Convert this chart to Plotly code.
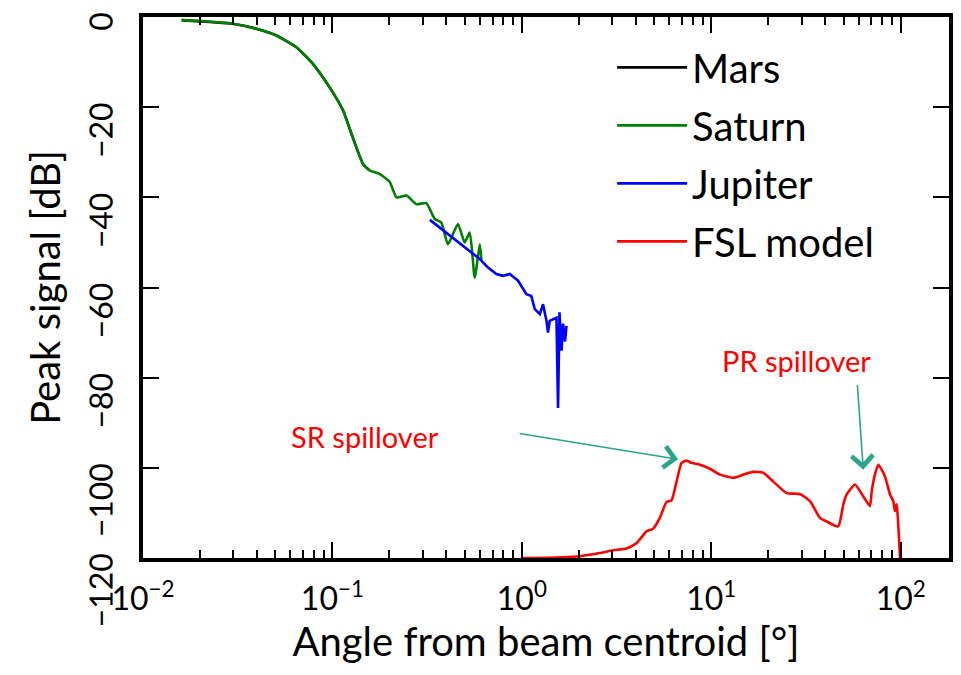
import plotly.graph_objects as go

# ---------------- data ----------------
mars_x = [0.016, 0.0298, 0.0396, 0.0506, 0.0645, 0.0789, 0.0966, 0.1137, 0.128, 0.145, 0.157]
mars_y = [-0.7, -1.5, -2.6, -4.1, -6.7, -10.4, -15.6, -20.7, -26.7, -32.6, -34.0]

saturn_x = [0.016, 0.022, 0.0298, 0.0396, 0.0506, 0.0645, 0.0789, 0.0966, 0.105, 0.1137,
            0.128, 0.145, 0.157, 0.177, 0.200, 0.218, 0.246, 0.277, 0.313, 0.347,
            0.376, 0.407, 0.460, 0.499, 0.531, 0.564, 0.600, 0.612]
saturn_y = [-0.7, -1.0, -1.5, -2.6, -4.1, -6.7, -10.4, -15.6, -18.0, -20.7,
            -26.7, -32.6, -34.0, -34.8, -36.5, -40.0, -39.6, -41.5, -41.3, -44.8,
            -45.6, -50.4, -45.9, -50.0, -47.8, -57.8, -50.4, -54.0]

jupiter_x = [0.327, 0.45, 0.600, 0.66, 0.734, 0.796, 0.863, 0.955, 1.057, 1.122, 1.17,
             1.245, 1.294, 1.349, 1.374, 1.403, 1.523, 1.553, 1.58, 1.62, 1.65, 1.69, 1.72]
jupiter_y = [-45.0, -49.5, -53.7, -55.5, -57.0, -57.4, -57.0, -58.5, -61.5, -61.9, -64.8,
             -65.9, -63.7, -67.4, -70.0, -67.4, -66.7, -86.7, -65.5, -74.0, -68.0, -72.0, -68.5]

fsl_x = [1.0, 1.146, 2.02, 2.58, 3.04, 3.57, 4.03, 4.55, 4.93, 5.35, 5.80, 6.17, 6.56, 6.97,
         7.41, 7.87, 8.71, 9.84, 11.1, 13.1, 14.8, 16.6, 18.8, 21.2, 25.0, 29.4, 33.2, 37.5,
         40.6, 46.8, 49.8, 51.9, 57.4, 63.4, 68.8, 70.3, 73.1, 76.2, 82.6, 87.8, 91.4, 93.3,
         95.2, 99.2]
fsl_y = [-120.0, -120.0, -119.6, -118.9, -118.3, -117.9, -116.7, -114.1, -113.5, -111.1,
         -107.6, -107.2, -103.0, -98.9, -98.4, -98.9, -99.3, -100.2, -101.5, -102.2, -101.5,
         -100.9, -101.1, -103.0, -105.6, -105.8, -107.4, -111.1, -111.9, -113.0, -108.1,
         -105.9, -103.7, -106.3, -108.5, -105.2, -101.5, -99.3, -101.9, -105.9, -107.4,
         -109.6, -108.1, -120.0]

x_tickvals = [0.01, 0.1, 1, 10, 100]
x_ticktext = ["10<sup>−2</sup>", "10<sup>−1</sup>", "10<sup>0</sup>", "10<sup>1</sup>", "10<sup>2</sup>"]
x_minorvals = [k * 10.0 ** e for e in range(-2, 3) for k in range(2, 10)]
y_tickvals = [0, -20, -40, -60, -80, -100, -120]
y_ticktext = ["0", "−20", "−40", "−60", "−80", "−100", "−120"]

series = [
    ("Mars", mars_x, mars_y, "black", "spline"),
    ("Saturn", saturn_x, saturn_y, "#008000", "spline"),
    ("Jupiter", jupiter_x, jupiter_y, "#0000ff", "linear"),
    ("FSL model", fsl_x, fsl_y, "#ff0000", "spline"),
]

FONT = "Lato, 'DejaVu Sans', sans-serif"
ARROW = "#2aa58a"

fig = go.Figure()
for name, xs, ys, col, shp in series:
    fig.add_trace(go.Scatter(x=xs, y=ys, mode="lines", name=name, legendgroup=name,
                             line=dict(color=col, width=2.6, shape=shp, smoothing=0.5)))

fig.update_layout(
    width=961, height=675,
    margin=dict(l=143, r=12, t=17, b=117),
    plot_bgcolor="white", paper_bgcolor="white",
    font=dict(family=FONT, color="black"),
    showlegend=True,
    legend=dict(x=0.582, y=0.967, xanchor="left", yanchor="top",
                bgcolor="rgba(0,0,0,0)", borderwidth=0,
                font=dict(size=40, family=FONT, color="black"),
                itemwidth=70, tracegroupgap=3),
)

fig.update_xaxes(
    type="log", range=[-2, 2.255], automargin=False,
    tickmode="array", tickvals=x_tickvals, ticktext=x_ticktext,
    ticks="inside", ticklen=16, tickwidth=2, tickcolor="black",
    minor=dict(tickmode="array", tickvals=x_minorvals, ticks="inside",
               ticklen=8, tickwidth=2, tickcolor="black", showgrid=False),
    showline=True, linewidth=4, linecolor="black", mirror="ticks",
    showgrid=False, zeroline=False,
    tickfont=dict(size=32, family=FONT),
    ticklabelstandoff=10,
    title=dict(text="Angle from beam centroid [°]", font=dict(size=40, family=FONT), standoff=10),
)
fig.update_yaxes(
    range=[-120, 0], automargin=False,
    tickmode="array", tickvals=y_tickvals, ticktext=y_ticktext,
    ticks="inside", ticklen=16, tickwidth=2, tickcolor="black",
    showline=True, linewidth=4, linecolor="black", mirror="ticks",
    showgrid=False, zeroline=False,
    tickangle=-89.9,
    tickfont=dict(size=32, family=FONT),
    ticklabelstandoff=36,
    title=dict(text="Peak signal [dB]", font=dict(size=40, family=FONT), standoff=8),
)

fig.add_annotation(x=-0.83, y=-93.0, xref="x", yref="y", text="SR spillover",
                   showarrow=False, font=dict(size=29, color="#ff0000", family=FONT))
fig.add_annotation(x=1.452, y=-76.1, xref="x", yref="y", text="PR spillover",
                   showarrow=False, font=dict(size=29, color="#ff0000", family=FONT))
fig.add_annotation(x=0.825, y=-98.1, xref="x", yref="y", text="", showarrow=True,
                   ax=-160, ay=-26, arrowhead=4, arrowsize=2.6, arrowwidth=1.6, arrowcolor=ARROW)
fig.add_annotation(x=1.8025, y=-100.4, xref="x", yref="y", text="", showarrow=True,
                   ax=-6, ay=-86, arrowhead=4, arrowsize=2.6, arrowwidth=1.6, arrowcolor=ARROW)

fig.write_html("out.html", config={"displayModeBar": False},
               post_script="document.body.style.margin='0';")
